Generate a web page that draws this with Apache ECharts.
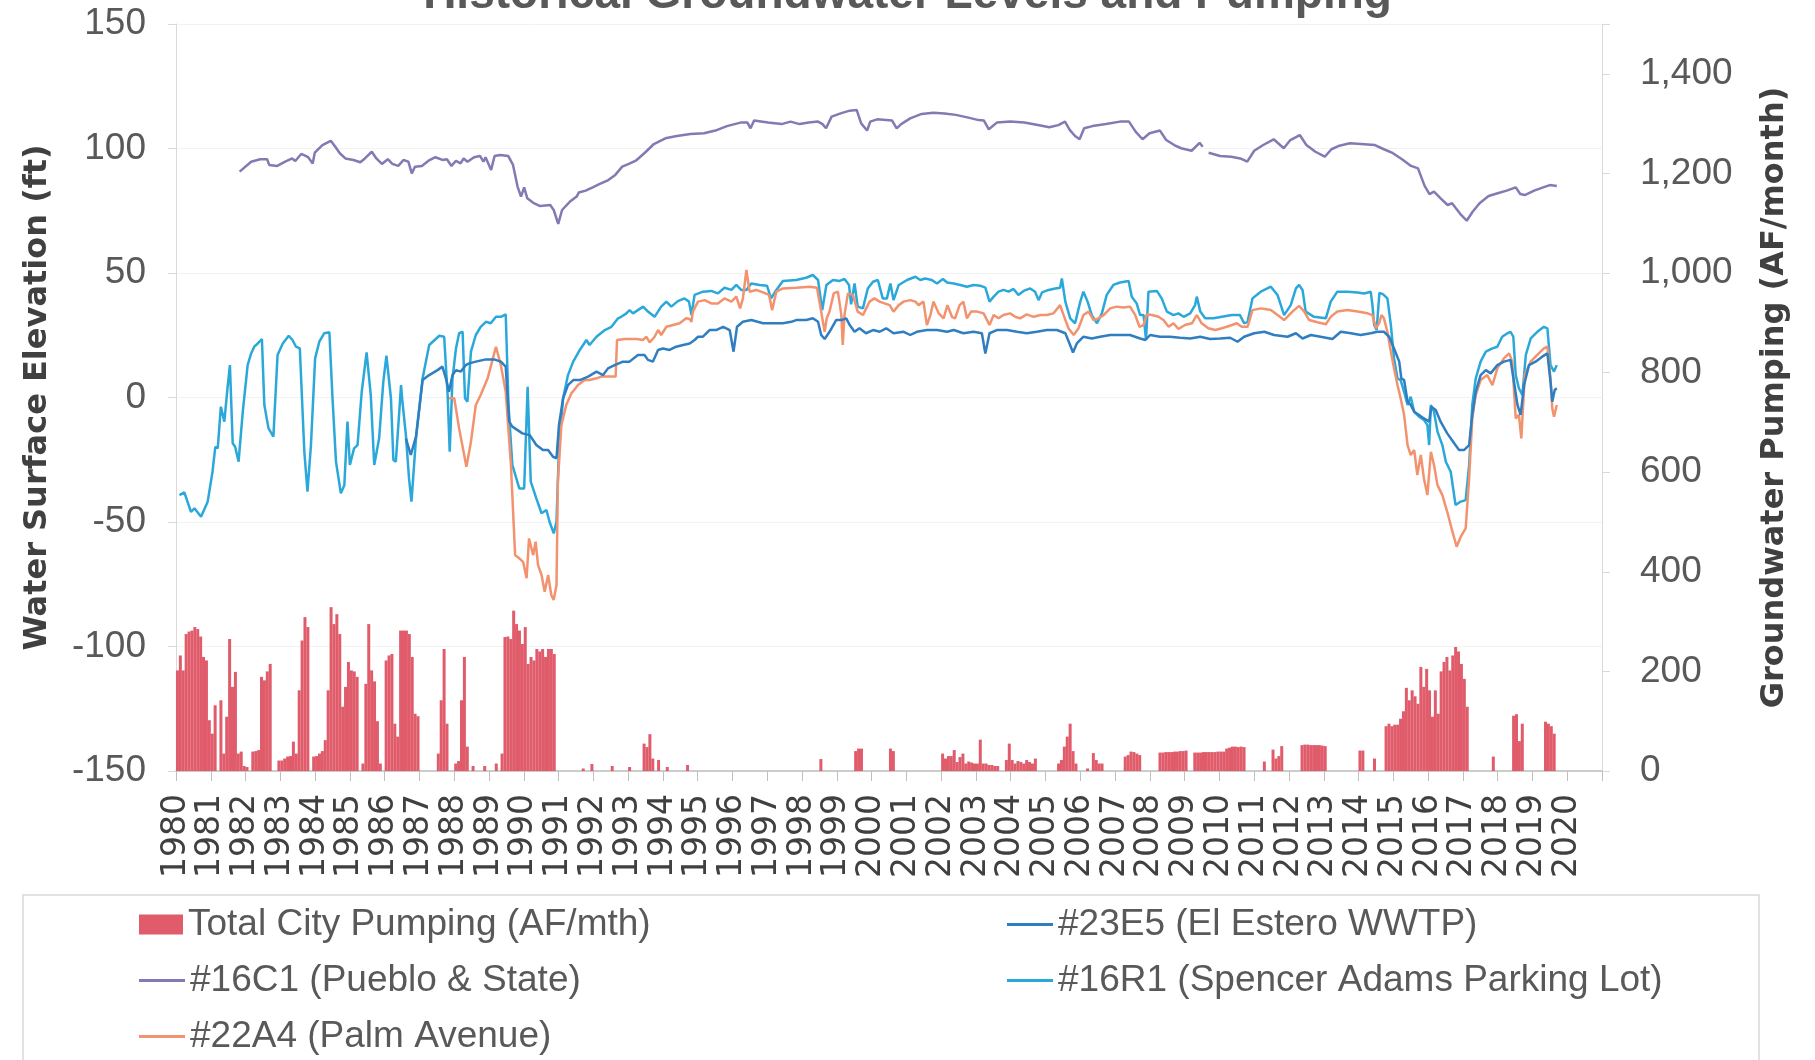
<!DOCTYPE html>
<html>
<head>
<meta charset="utf-8">
<script src="https://cdn.jsdelivr.net/npm/echarts@6/dist/echarts.min.js"></script>
<style>
  html, body { margin: 0; padding: 0; background: #ffffff; }
  #chart { width: 1815px; height: 1060px; }
</style>
</head>
<body>
<div id="chart"></div>
<script>
// ---------------- DATA ----------------
const chartTitle = 'Historical Groundwater Levels and Pumping';
const yearLabelsMin = 1980;
const yearLabelsMax = 2021;
const leftTicks = { min: -150, max: 150, step: 50 };
const rightTicks = { min: 0, max: 1500, step: 200 };

const seriesNames = [
  'Total City Pumping (AF/mth)',
  '#23E5 (El Estero WWTP)',
  '#16C1 (Pueblo & State)',
  '#16R1 (Spencer Adams Parking Lot)',
  '#22A4 (Palm Avenue)'
];

// Monthly total city pumping (AF/month), Jan..Dec per year
const pumping1980s = [
  202, 232, 202, 275, 280, 282, 289, 285, 270, 229, 222, 102,
  75, 132, 0, 142, 35, 109, 265, 169, 199, 35, 39, 10,
  8, 0, 39, 40, 42, 189, 182, 200, 215, 0, 0, 21,
  21, 25, 29, 30, 59, 35, 162, 262, 309, 289, 0, 29,
  30, 35, 40, 62, 162, 329, 295, 315, 275, 129, 169, 219,
  202, 200, 189, 0, 15, 175, 295, 202, 180, 100, 15, 0,
  222, 232, 235, 95, 69, 282, 282, 282, 275, 229, 115, 110,
  0, 0, 0, 0, 0, 0, 35, 142, 245, 95, 0, 0,
  15, 20, 142, 229, 49, 0, 10, 0, 0, 0, 10, 0,
  0, 0, 15, 0, 35, 269, 270, 265, 322, 295, 282, 255
];
const pumping1990s = [
  289, 215, 229, 222, 245, 240, 245, 229, 245, 245, 235, 0,
  0, 0, 0, 0, 0, 0, 0, 0, 5, 0, 0, 14,
  0, 0, 0, 0, 0, 0, 10, 0, 0, 0, 0, 0,
  8, 0, 0, 0, 0, 55, 48, 74, 25, 0, 22, 0,
  0, 8, 0, 0, 0, 0, 0, 0, 12, 0, 0, 0,
  0, 0, 0, 0, 0, 0, 0, 0, 0, 0, 0, 0,
  0, 0, 0, 0, 0, 0, 0, 0, 0, 0, 0, 0,
  0, 0, 0, 0, 0, 0, 0, 0, 0, 0, 0, 0,
  0, 0, 0, 0, 0, 0, 24, 0, 0, 0, 0, 0,
  0, 0, 0, 0, 0, 0, 40, 45, 45, 0, 0, 0
];
const pumping2000s = [
  0, 0, 0, 0, 0, 0, 45, 40, 0, 0, 0, 0,
  0, 0, 0, 0, 0, 0, 0, 0, 0, 0, 0, 0,
  35, 25, 30, 30, 42, 18, 28, 35, 15, 19, 17, 15,
  15, 63, 15, 15, 12, 12, 10, 10, 0, 0, 22, 55,
  22, 15, 20, 18, 15, 22, 18, 15, 25, 0, 0, 0,
  0, 0, 0, 0, 15, 22, 49, 69, 95, 40, 15, 0,
  0, 0, 5, 0, 36, 22, 15, 15, 0, 0, 0, 0,
  0, 0, 0, 29, 32, 39, 38, 35, 32, 0, 0, 0,
  0, 0, 0, 37, 37, 38, 38, 38, 39, 39, 40, 40,
  41, 0, 0, 37, 37, 37, 38, 38, 38, 38, 38, 39
];
const pumping2010s = [
  39, 39, 45, 47, 49, 49, 48, 49, 48, 0, 0, 0,
  0, 0, 0, 19, 0, 0, 43, 25, 30, 50, 0, 0,
  0, 0, 0, 0, 52, 53, 53, 52, 52, 52, 52, 51,
  50, 0, 0, 0, 0, 0, 0, 0, 0, 0, 0, 0,
  41, 41, 0, 0, 0, 25, 0, 0, 0, 90, 95, 90,
  93, 93, 105, 120, 167, 142, 162, 150, 135, 209, 169, 205,
  162, 109, 162, 115, 200, 219, 229, 202, 232, 249, 240, 215,
  185, 129, 0, 0, 0, 0, 0, 0, 0, 0, 29, 0,
  0, 0, 0, 0, 0, 111, 114, 60, 95, 0, 0, 0,
  0, 0, 0, 0, 99, 95, 90, 75, 0, 0, 0, 0
];
const pumpingDecadeStarts = [1980, 1990, 2000, 2010];

// Water surface elevation (ft): [decimal year, value]
const well16C1 = [
  [1981.83,90.7],[1982.16,94.7],[1982.42,95.7],[1982.62,95.7],[1982.68,93.4],[1982.91,93.0],[1983.14,94.7],[1983.34,96.0],[1983.43,95.0],[1983.60,97.8],[1983.80,96.5],[1983.93,94.0],[1983.99,98.3],[1984.21,101.4],[1984.45,103.1],[1984.58,100.7],[1984.71,98.1],[1984.87,96.0],[1985.10,95.4],[1985.30,94.5],[1985.43,96.0],[1985.63,98.7],[1985.76,96.0],[1985.92,93.8],[1986.09,95.7],[1986.22,93.8],[1986.39,93.0],[1986.54,95.4],[1986.68,94.7],[1986.78,90.0],[1986.87,92.7],[1987.07,93.0],[1987.26,95.1],[1987.46,96.5],[1987.66,95.4],[1987.79,95.7],[1987.92,93.0],[1988.05,95.1],[1988.18,94.0],[1988.27,96.0],[1988.38,94.7],[1988.57,96.5],[1988.74,97.0],[1988.84,94.7],[1988.90,96.5],[1989.06,91.4],[1989.16,97.0],[1989.32,97.4],[1989.55,97.0],[1989.69,93.4],[1989.82,84.7],[1989.92,80.7],[1990.01,84.4],[1990.10,80.0],[1990.27,78.2],[1990.47,76.9],[1990.76,77.3],[1990.86,75.3],[1990.99,69.7],[1991.10,75.3],[1991.32,78.6],[1991.52,80.7],[1991.58,82.3],[1991.78,83.1],[1991.98,84.4],[1992.17,85.7],[1992.43,87.3],[1992.63,89.4],[1992.83,92.7],[1993.02,93.8],[1993.22,95.1],[1993.48,98.3],[1993.74,101.8],[1994.07,104.1],[1994.40,105.0],[1994.79,105.8],[1995.18,106.1],[1995.51,107.2],[1995.84,109.0],[1996.23,110.4],[1996.43,110.4],[1996.52,108.1],[1996.62,111.2],[1997.02,110.4],[1997.41,109.8],[1997.67,110.8],[1997.93,109.8],[1998.19,110.4],[1998.46,110.8],[1998.59,109.8],[1998.69,108.1],[1998.85,112.8],[1999.11,114.1],[1999.37,115.2],[1999.57,115.5],[1999.70,110.1],[1999.87,107.2],[1999.96,110.8],[2000.16,111.7],[2000.42,111.4],[2000.59,111.2],[2000.72,108.1],[2000.85,109.8],[2001.11,112.1],[2001.44,113.9],[2001.77,114.4],[2002.10,114.1],[2002.42,113.5],[2002.75,112.5],[2003.08,111.4],[2003.23,111.2],[2003.37,107.7],[2003.60,110.4],[2003.99,110.8],[2004.39,110.4],[2004.78,109.4],[2005.11,108.5],[2005.37,109.4],[2005.56,110.8],[2005.70,107.4],[2005.85,105.0],[2005.98,103.7],[2006.11,108.1],[2006.35,109.0],[2006.74,109.8],[2007.14,110.8],[2007.40,110.8],[2007.59,106.8],[2007.79,103.7],[2007.99,106.1],[2008.29,107.2],[2008.47,103.4],[2008.70,101.4],[2008.90,100.1],[2009.20,99.1],[2009.43,102.3],[2009.52,100.7],[2009.60,'-'],[2009.69,98.3],[2010.02,97.0],[2010.34,96.7],[2010.60,96.0],[2010.80,94.7],[2011.00,99.1],[2011.26,101.4],[2011.56,103.7],[2011.85,100.1],[2012.04,103.4],[2012.31,105.4],[2012.50,101.4],[2012.76,98.7],[2013.03,96.7],[2013.22,99.7],[2013.42,101.0],[2013.75,102.1],[2014.07,101.8],[2014.47,101.4],[2014.73,99.7],[2014.99,98.1],[2015.25,95.7],[2015.51,93.0],[2015.71,92.0],[2015.90,85.0],[2016.04,81.7],[2016.17,82.7],[2016.36,80.0],[2016.56,77.3],[2016.69,78.0],[2016.80,76.0],[2016.95,73.3],[2017.11,71.0],[2017.28,74.6],[2017.48,78.0],[2017.74,80.9],[2018.00,82.0],[2018.26,83.1],[2018.52,84.4],[2018.65,81.7],[2018.78,81.3],[2019.05,83.1],[2019.31,84.4],[2019.50,85.3],[2019.70,84.9]
];

const well16R1 = [
  [1980.10,-39.2],[1980.24,-38.1],[1980.43,-45.9],[1980.53,-44.5],[1980.72,-47.9],[1980.91,-41.9],[1981.05,-29.8],[1981.13,-19.8],[1981.20,-20.4],[1981.29,-3.7],[1981.39,-9.7],[1981.48,3.7],[1981.55,13.0],[1981.63,-18.4],[1981.70,-19.8],[1981.80,-25.8],[1981.92,-5.7],[1982.06,13.0],[1982.16,17.7],[1982.25,20.4],[1982.35,21.7],[1982.47,23.5],[1982.54,-3.0],[1982.66,-12.4],[1982.80,-15.7],[1982.92,17.1],[1983.07,21.7],[1983.24,24.8],[1983.35,23.1],[1983.45,20.4],[1983.56,19.7],[1983.69,-21.8],[1983.78,-37.8],[1983.88,-19.1],[1984.00,15.7],[1984.12,22.4],[1984.26,25.8],[1984.41,26.2],[1984.50,-0.3],[1984.60,-25.8],[1984.74,-38.5],[1984.84,-35.2],[1984.93,-9.7],[1985.00,-27.1],[1985.12,-20.4],[1985.22,-19.1],[1985.34,2.3],[1985.48,18.1],[1985.60,1.0],[1985.70,-27.1],[1985.84,-16.4],[1985.96,6.3],[1986.05,16.8],[1986.18,-0.3],[1986.25,-25.1],[1986.32,-25.8],[1986.40,-9.7],[1986.47,5.0],[1986.51,-1.7],[1986.61,-15.1],[1986.70,-32.5],[1986.77,-41.8],[1986.90,-16.4],[1987.09,7.7],[1987.28,21.1],[1987.57,24.8],[1987.71,24.4],[1987.81,1.0],[1987.87,-21.8],[1987.95,7.7],[1988.05,19.7],[1988.14,25.8],[1988.24,26.4],[1988.31,-0.3],[1988.38,-1.7],[1988.48,18.4],[1988.62,25.1],[1988.76,28.4],[1988.91,30.4],[1989.05,29.8],[1989.20,32.4],[1989.34,32.4],[1989.48,33.4],[1989.56,-3.0],[1989.67,-27.1],[1989.87,-36.5],[1990.01,-36.5],[1990.11,4.3],[1990.20,-33.8],[1990.36,-40.5],[1990.51,-46.5],[1990.65,-45.2],[1990.74,-49.9],[1990.86,-54.6],[1990.94,-49.9],[1991.01,-20.4],[1991.13,-0.3],[1991.27,9.0],[1991.42,14.4],[1991.61,19.1],[1991.80,23.1],[1991.89,21.1],[1992.09,24.4],[1992.33,27.1],[1992.52,28.4],[1992.71,31.8],[1992.80,32.4],[1992.95,33.8],[1993.04,35.1],[1993.14,33.8],[1993.28,35.1],[1993.43,36.5],[1993.57,34.5],[1993.76,32.4],[1993.95,36.5],[1994.10,38.5],[1994.24,36.5],[1994.43,38.7],[1994.62,39.8],[1994.75,38.5],[1994.82,33.1],[1994.91,41.2],[1995.15,42.5],[1995.39,42.8],[1995.58,41.8],[1995.77,44.1],[1995.97,43.2],[1996.11,45.2],[1996.25,43.2],[1996.40,43.2],[1996.54,45.8],[1996.78,45.2],[1996.99,44.9],[1997.11,39.8],[1997.26,43.2],[1997.45,46.8],[1997.83,47.2],[1998.12,48.1],[1998.31,49.2],[1998.46,47.2],[1998.58,35.1],[1998.70,45.2],[1998.89,47.2],[1999.08,46.8],[1999.22,47.6],[1999.35,45.2],[1999.41,37.4],[1999.51,45.8],[1999.60,36.5],[1999.75,35.8],[1999.89,43.8],[2000.04,46.5],[2000.18,47.2],[2000.32,39.8],[2000.44,39.8],[2000.54,45.8],[2000.63,39.1],[2000.78,45.2],[2001.02,47.2],[2001.26,48.5],[2001.40,47.2],[2001.54,47.8],[2001.73,47.2],[2001.88,45.8],[2002.05,47.6],[2002.17,46.2],[2002.36,45.8],[2002.55,45.2],[2002.74,44.5],[2002.93,45.2],[2003.12,44.9],[2003.27,44.1],[2003.39,38.5],[2003.51,40.5],[2003.65,42.5],[2003.79,43.2],[2003.94,42.5],[2004.08,43.6],[2004.22,41.2],[2004.37,42.8],[2004.56,43.8],[2004.70,42.5],[2004.80,39.1],[2004.90,42.2],[2005.09,43.2],[2005.28,43.8],[2005.42,44.1],[2005.47,47.8],[2005.57,38.5],[2005.71,31.8],[2005.85,29.8],[2006.00,38.5],[2006.09,42.5],[2006.21,38.5],[2006.33,33.1],[2006.48,29.8],[2006.62,33.8],[2006.76,41.2],[2006.95,45.2],[2007.14,46.2],[2007.39,46.8],[2007.48,40.5],[2007.62,37.8],[2007.72,33.1],[2007.82,33.1],[2007.89,23.1],[2007.96,42.5],[2008.20,42.8],[2008.34,39.8],[2008.49,34.5],[2008.68,33.1],[2008.82,33.8],[2008.97,32.4],[2009.16,33.8],[2009.30,37.1],[2009.35,40.5],[2009.45,34.5],[2009.59,31.8],[2009.83,31.8],[2010.07,32.4],[2010.36,33.1],[2010.59,33.1],[2010.71,29.8],[2010.81,30.4],[2010.95,39.8],[2011.19,42.5],[2011.48,44.5],[2011.67,41.2],[2011.86,33.1],[2012.05,37.1],[2012.20,43.8],[2012.29,45.2],[2012.39,43.2],[2012.48,34.5],[2012.72,32.4],[2013.06,31.8],[2013.20,38.5],[2013.39,42.5],[2013.68,42.5],[2013.97,42.2],[2014.16,41.8],[2014.35,42.5],[2014.40,37.1],[2014.45,29.1],[2014.52,27.1],[2014.60,42.0],[2014.70,41.5],[2014.83,39.8],[2014.93,29.1],[2015.02,15.7],[2015.12,7.7],[2015.21,7.0],[2015.31,2.3],[2015.41,-3.0],[2015.50,0.3],[2015.60,-5.7],[2015.74,-7.7],[2015.88,-9.0],[2015.98,-11.1],[2016.03,-19.1],[2016.08,-3.0],[2016.17,-5.7],[2016.27,-13.7],[2016.41,-19.1],[2016.51,-25.8],[2016.65,-29.8],[2016.79,-43.2],[2016.94,-41.8],[2017.08,-41.2],[2017.18,-27.1],[2017.27,-3.0],[2017.37,7.7],[2017.51,14.4],[2017.66,18.4],[2017.85,19.7],[2017.99,20.4],[2018.13,24.4],[2018.28,25.8],[2018.37,26.4],[2018.45,24.4],[2018.52,9.0],[2018.61,3.7],[2018.71,1.0],[2018.81,17.1],[2018.95,23.7],[2019.14,26.4],[2019.33,28.4],[2019.43,27.8],[2019.52,13.0],[2019.62,10.4],[2019.70,13.0]
];

const well23E5 = [
  [1986.61,-16.4],[1986.75,-23.1],[1986.90,-15.7],[1987.09,7.0],[1987.28,9.0],[1987.52,11.0],[1987.66,12.4],[1987.76,7.7],[1987.85,2.3],[1987.95,9.0],[1988.05,11.0],[1988.19,10.4],[1988.33,13.0],[1988.43,13.7],[1988.62,14.4],[1988.91,15.3],[1989.15,15.3],[1989.34,14.4],[1989.48,12.4],[1989.58,-9.7],[1989.67,-11.7],[1989.96,-14.4],[1990.17,-15.1],[1990.36,-19.1],[1990.55,-21.1],[1990.70,-21.1],[1990.84,-23.8],[1990.94,-24.4],[1991.01,-11.1],[1991.13,-0.3],[1991.27,5.0],[1991.42,7.0],[1991.61,7.0],[1991.85,8.4],[1992.09,10.4],[1992.28,9.0],[1992.42,11.7],[1992.61,13.0],[1992.85,14.4],[1993.04,14.4],[1993.28,17.1],[1993.47,17.1],[1993.57,15.1],[1993.71,14.4],[1993.86,19.1],[1994.00,19.7],[1994.19,19.1],[1994.38,20.4],[1994.58,21.1],[1994.77,21.7],[1994.91,23.1],[1995.01,24.4],[1995.15,24.4],[1995.34,27.1],[1995.53,27.1],[1995.73,28.4],[1995.92,27.1],[1996.03,18.4],[1996.13,28.4],[1996.30,30.4],[1996.54,31.1],[1996.88,29.8],[1997.16,29.8],[1997.45,29.8],[1997.69,30.4],[1997.83,31.1],[1998.12,31.1],[1998.31,31.8],[1998.46,30.4],[1998.55,25.1],[1998.65,23.5],[1998.79,26.4],[1998.98,31.1],[1999.13,31.1],[1999.27,31.8],[1999.37,29.1],[1999.51,26.4],[1999.65,27.8],[1999.84,25.8],[2000.04,27.1],[2000.23,26.4],[2000.42,27.8],[2000.63,25.8],[2000.92,26.4],[2001.11,25.1],[2001.30,26.4],[2001.59,27.1],[2001.88,27.1],[2002.17,26.4],[2002.36,27.1],[2002.64,25.8],[2002.93,26.4],[2003.17,25.8],[2003.27,17.7],[2003.39,25.8],[2003.60,27.1],[2003.89,27.1],[2004.18,26.4],[2004.46,25.8],[2004.75,26.4],[2005.04,27.1],[2005.33,27.1],[2005.57,25.8],[2005.69,21.7],[2005.79,18.1],[2005.90,21.7],[2006.09,24.4],[2006.33,23.7],[2006.57,24.4],[2006.86,25.1],[2007.14,25.1],[2007.43,25.1],[2007.72,23.7],[2007.87,23.1],[2008.01,25.1],[2008.29,24.4],[2008.58,24.4],[2008.87,24.0],[2009.16,23.7],[2009.45,24.4],[2009.73,23.5],[2010.02,23.7],[2010.31,24.0],[2010.52,22.4],[2010.71,24.4],[2011.00,25.8],[2011.29,26.4],[2011.57,25.1],[2011.96,24.4],[2012.20,25.8],[2012.39,23.7],[2012.63,25.1],[2012.91,24.4],[2013.25,23.5],[2013.49,26.4],[2013.78,25.8],[2014.06,25.1],[2014.35,25.8],[2014.54,26.4],[2014.73,26.4],[2014.88,24.4],[2015.02,19.7],[2015.17,14.4],[2015.23,7.7],[2015.31,7.0],[2015.41,-1.7],[2015.50,-3.0],[2015.60,-5.7],[2015.74,-7.0],[2015.88,-8.4],[2016.03,-9.7],[2016.09,-3.7],[2016.22,-5.0],[2016.36,-9.7],[2016.55,-14.4],[2016.75,-18.4],[2016.89,-21.1],[2017.03,-21.1],[2017.18,-19.1],[2017.27,-7.0],[2017.37,2.3],[2017.51,9.0],[2017.66,11.0],[2017.80,9.7],[2017.99,13.0],[2018.18,14.4],[2018.37,15.1],[2018.47,6.3],[2018.57,-3.0],[2018.66,-7.0],[2018.76,5.0],[2018.90,13.0],[2019.09,14.4],[2019.28,16.4],[2019.43,17.7],[2019.52,6.3],[2019.57,-1.7],[2019.64,3.0],[2019.70,3.7]
];

const well22A4 = [
  [1987.85,-0.3],[1988.00,-0.3],[1988.14,-12.4],[1988.35,-27.8],[1988.48,-17.8],[1988.62,-3.0],[1988.76,1.0],[1988.96,7.7],[1989.20,20.4],[1989.34,13.0],[1989.48,2.3],[1989.63,-27.1],[1989.75,-63.3],[1989.87,-64.6],[1989.98,-66.0],[1990.08,-72.6],[1990.15,-56.6],[1990.27,-63.3],[1990.34,-57.9],[1990.41,-67.3],[1990.51,-71.3],[1990.60,-78.0],[1990.70,-71.3],[1990.79,-79.3],[1990.86,-81.3],[1990.94,-75.3],[1990.98,-33.8],[1991.08,-11.1],[1991.22,-3.0],[1991.37,1.7],[1991.56,5.0],[1991.75,7.0],[1991.89,7.0],[1992.09,7.7],[1992.23,8.4],[1992.47,8.4],[1992.64,8.4],[1992.68,23.1],[1992.90,23.5],[1993.24,23.5],[1993.43,23.1],[1993.52,24.4],[1993.62,22.1],[1993.76,24.4],[1993.86,27.1],[1993.95,25.1],[1994.10,28.4],[1994.29,29.1],[1994.48,29.8],[1994.67,31.8],[1994.77,31.5],[1994.82,30.4],[1994.86,34.5],[1995.01,38.5],[1995.20,39.1],[1995.39,37.8],[1995.58,37.8],[1995.77,39.8],[1995.97,38.5],[1996.11,40.5],[1996.22,35.8],[1996.30,39.8],[1996.40,51.2],[1996.49,42.5],[1996.68,43.2],[1996.88,42.2],[1997.05,41.2],[1997.14,35.1],[1997.26,42.5],[1997.45,43.8],[1997.83,44.1],[1998.22,44.5],[1998.43,44.1],[1998.55,34.5],[1998.65,26.4],[1998.71,31.8],[1998.79,34.5],[1998.91,41.8],[1999.03,42.5],[1999.13,33.1],[1999.17,21.1],[1999.22,33.1],[1999.32,41.8],[1999.46,41.2],[1999.60,34.5],[1999.75,33.1],[1999.94,38.5],[2000.08,39.8],[2000.23,38.5],[2000.37,37.8],[2000.52,37.1],[2000.63,34.5],[2000.78,37.1],[2000.92,38.5],[2001.11,39.1],[2001.26,38.5],[2001.35,37.1],[2001.49,38.5],[2001.59,29.1],[2001.69,33.1],[2001.78,38.5],[2001.93,33.8],[2002.07,31.8],[2002.18,37.1],[2002.31,32.4],[2002.40,31.8],[2002.53,37.1],[2002.64,38.5],[2002.74,31.8],[2002.86,34.5],[2003.03,34.5],[2003.22,33.8],[2003.39,29.1],[2003.51,33.1],[2003.65,31.8],[2003.79,33.1],[2003.98,33.8],[2004.13,32.4],[2004.27,31.8],[2004.46,33.4],[2004.66,32.4],[2004.85,33.1],[2005.04,33.1],[2005.23,33.8],[2005.42,37.1],[2005.52,33.1],[2005.66,27.8],[2005.81,25.1],[2005.95,27.8],[2006.09,33.1],[2006.24,34.5],[2006.38,31.1],[2006.52,31.8],[2006.67,33.1],[2006.86,35.8],[2007.05,36.5],[2007.24,36.1],[2007.43,36.5],[2007.58,33.1],[2007.70,28.4],[2007.82,29.1],[2007.91,33.4],[2008.06,33.1],[2008.25,32.4],[2008.39,31.1],[2008.54,28.4],[2008.68,29.8],[2008.82,27.5],[2009.01,29.1],[2009.21,29.8],[2009.35,33.1],[2009.49,29.8],[2009.68,27.8],[2009.88,27.1],[2010.07,27.8],[2010.21,28.4],[2010.36,29.1],[2010.50,29.8],[2010.64,28.4],[2010.81,28.4],[2010.95,35.1],[2011.19,35.8],[2011.48,35.1],[2011.67,33.1],[2011.86,31.1],[2012.10,34.5],[2012.29,36.8],[2012.44,34.5],[2012.58,31.1],[2012.82,30.2],[2013.06,29.4],[2013.20,32.4],[2013.39,34.5],[2013.68,35.1],[2013.97,34.5],[2014.26,33.8],[2014.40,33.1],[2014.50,27.8],[2014.59,29.8],[2014.66,33.1],[2014.73,31.8],[2014.83,26.4],[2014.93,18.4],[2015.02,11.7],[2015.12,5.0],[2015.21,-0.3],[2015.31,-7.0],[2015.41,-19.1],[2015.50,-23.1],[2015.60,-21.1],[2015.69,-31.1],[2015.79,-23.1],[2015.88,-32.5],[2015.98,-39.2],[2016.08,-21.8],[2016.17,-27.1],[2016.27,-35.2],[2016.41,-39.2],[2016.55,-45.9],[2016.70,-53.9],[2016.82,-59.9],[2016.94,-55.9],[2017.08,-52.6],[2017.18,-32.5],[2017.27,-8.4],[2017.37,1.0],[2017.51,7.0],[2017.70,9.0],[2017.85,5.0],[2017.99,11.7],[2018.18,15.7],[2018.33,17.7],[2018.42,14.4],[2018.52,-8.4],[2018.61,-7.0],[2018.68,-16.4],[2018.78,9.0],[2018.95,14.4],[2019.14,17.1],[2019.33,19.7],[2019.43,20.4],[2019.52,7.7],[2019.57,-4.3],[2019.62,-7.7],[2019.70,-3.0]
];

// ---------------- BUILD ----------------
const pumpingDecades = [pumping1980s, pumping1990s, pumping2000s, pumping2010s];
const pumpingData = [];
pumpingDecades.forEach(function (arr, d) {
  arr.forEach(function (v, i) {
    pumpingData.push([pumpingDecadeStarts[d] + (i + 0.5) / 12, v]);
  });
});

const colors = {
  pump: '#E05C6B',
  e23: '#2F7EC1',
  c16: '#8379B3',
  r16: '#2AA8DA',
  a22: '#F2926E'
};
const labelFont = "'Liberation Sans', Arial, sans-serif";
const wideFont = "'DejaVu Sans', Verdana, sans-serif";
const textGray = '#595959';

function legendItem(name, left, top, isBar) {
  return {
    data: [{ name: name, icon: 'rect' }],
    left: left, top: top,
    orient: 'horizontal',
    padding: 0,
    itemWidth: isBar ? 44 : 46,
    itemHeight: isBar ? 20 : 3,
    itemGap: 0,
    selectedMode: false,
    textStyle: { fontFamily: labelFont, fontSize: 37, color: textGray }
  };
}

const chart = echarts.init(document.getElementById('chart'), null, { renderer: 'canvas' });
const option = {
  animation: false,
  backgroundColor: '#ffffff',
  title: {
    text: chartTitle,
    left: 'center',
    top: -28,
    padding: 0,
    textStyle: { fontFamily: labelFont, fontWeight: 'bold', fontSize: 46, color: textGray }
  },
  grid: { left: 176, right: 213, top: 24, bottom: 289, containLabel: false },
  legend: [
    legendItem(seriesNames[0], 139, 906, true),
    legendItem(seriesNames[1], 1007, 906, false),
    legendItem(seriesNames[2], 139, 962, false),
    legendItem(seriesNames[3], 1007, 962, false),
    legendItem(seriesNames[4], 139, 1018, false)
  ],
  graphic: [{
    type: 'rect',
    shape: { x: 23, y: 895, width: 1736, height: 175 },
    style: { fill: 'none', stroke: '#d9d9d9', lineWidth: 1.5 },
    silent: true
  }],
  xAxis: {
    type: 'value',
    position: 'bottom',
    min: yearLabelsMin,
    max: yearLabelsMax,
    interval: 1,
    axisLine: { show: true, onZero: false, onZeroAxisIndex: 1, lineStyle: { color: '#bfbfbf', width: 1.5 } },
    axisTick: { show: true, length: 10, lineStyle: { color: '#bfbfbf' } },
    splitLine: { show: false },
    axisLabel: {
      rotate: 90,
      margin: 23,
      fontFamily: wideFont,
      fontSize: 33,
      color: '#404040',
      formatter: function (v) { return v >= yearLabelsMax ? '' : String(v); }
    }
  },
  yAxis: [{
    type: 'value',
    position: 'left',
    min: leftTicks.min, max: leftTicks.max, interval: leftTicks.step,
    name: 'Water Surface Elevation (ft)',
    nameLocation: 'middle',
    nameRotate: 90,
    nameGap: 122,
    nameTextStyle: { fontFamily: wideFont, fontWeight: 'bold', fontSize: 32, color: '#404040' },
    axisLine: { show: true, onZero: false, lineStyle: { color: '#d9d9d9' } },
    axisTick: { show: true, length: 8, lineStyle: { color: '#d9d9d9' } },
    splitLine: { show: true, lineStyle: { color: '#f2f2f2', width: 1 } },
    axisLabel: { margin: 30, fontFamily: labelFont, fontSize: 37, color: textGray }
  }, {
    type: 'value',
    position: 'right',
    min: rightTicks.min, max: rightTicks.max, interval: rightTicks.step,
    name: 'Groundwater Pumping (AF/month)',
    nameLocation: 'middle',
    nameRotate: 90,
    nameGap: 157,
    nameTextStyle: { fontFamily: wideFont, fontWeight: 'bold', fontSize: 32, color: '#404040' },
    axisLine: { show: true, onZero: false, lineStyle: { color: '#d9d9d9' } },
    axisTick: { show: true, length: 8, lineStyle: { color: '#d9d9d9' } },
    splitLine: { show: false },
    axisLabel: {
      margin: 38, fontFamily: labelFont, fontSize: 37, color: textGray,
      formatter: function (v) { return v >= rightTicks.max ? '' : v.toLocaleString('en-US'); }
    }
  }],
  series: [{
    name: seriesNames[0],
    type: 'bar',
    yAxisIndex: 1,
    data: pumpingData,
    barWidth: 3,
    itemStyle: { color: colors.pump },
    z: 1
  }, {
    name: seriesNames[1],
    type: 'line',
    data: well23E5,
    showSymbol: false, symbol: 'none',
    lineStyle: { color: colors.e23, width: 2.5 },
    itemStyle: { color: colors.e23 },
    z: 3
  }, {
    name: seriesNames[2],
    type: 'line',
    data: well16C1,
    showSymbol: false, symbol: 'none',
    connectNulls: false,
    lineStyle: { color: colors.c16, width: 2.5 },
    itemStyle: { color: colors.c16 },
    z: 3
  }, {
    name: seriesNames[3],
    type: 'line',
    data: well16R1,
    showSymbol: false, symbol: 'none',
    lineStyle: { color: colors.r16, width: 2.5 },
    itemStyle: { color: colors.r16 },
    z: 2
  }, {
    name: seriesNames[4],
    type: 'line',
    data: well22A4,
    showSymbol: false, symbol: 'none',
    lineStyle: { color: colors.a22, width: 2.5 },
    itemStyle: { color: colors.a22 },
    z: 2
  }]
};
chart.setOption(option);
</script>
</body>
</html>
